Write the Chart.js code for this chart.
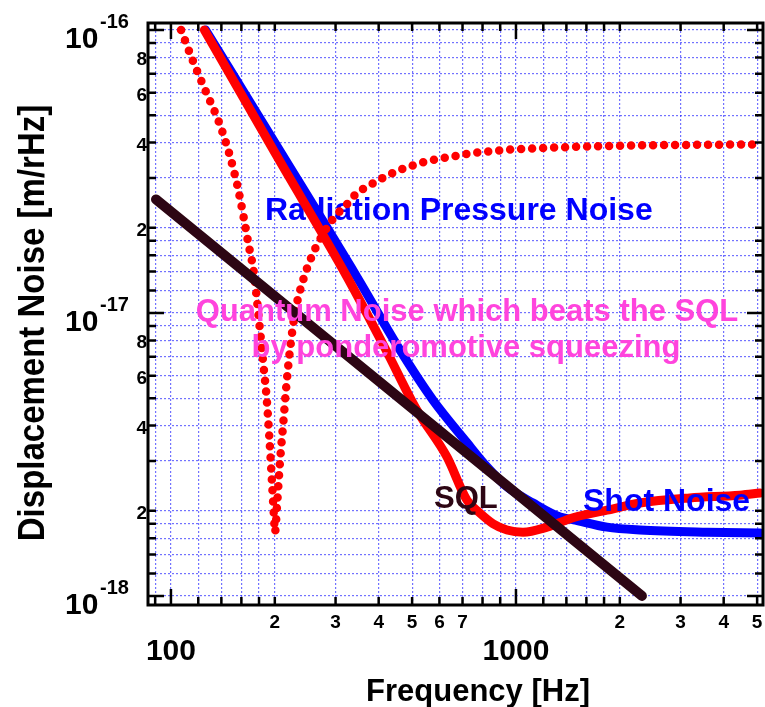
<!DOCTYPE html>
<html><head><meta charset="utf-8">
<script src="https://cdn.jsdelivr.net/npm/chart.js@4.4.0/dist/chart.umd.min.js"></script>
<style>html,body{margin:0;padding:0;background:#fff;}#wrap{width:765px;height:707px;position:relative;}</style>
</head><body><div id="wrap"><canvas id="c" width="765" height="707"></canvas></div>
<script>
// ---- data ----
const sqlFreq  = [90.5, 2318];
const sqlNoise = [2.52e-17, 1.0e-18];

const rpFreq  = [126, 206, 346, 461, 574, 721, 824, 942, 1120, 1342, 1463, 1836, 2287, 3578, 5100];
const rpNoise = [1.0e-16, 3.77e-17, 1.34e-17, 7.40e-18, 4.93e-18, 3.48e-18, 2.86e-18, 2.43e-18, 2.13e-18, 1.90e-18, 1.86e-18, 1.75e-18, 1.71e-18, 1.68e-18, 1.67e-18];

const qnFreq  = [125, 201, 324, 420, 516, 631, 721, 787, 858, 942, 1048, 1230, 1463, 1836, 2287, 3190, 4455, 5100];
const qnNoise = [1.0e-16, 3.65e-17, 1.34e-17, 7.40e-18, 4.54e-18, 3.10e-18, 2.18e-18, 1.96e-18, 1.80e-18, 1.71e-18, 1.68e-18, 1.75e-18, 1.89e-18, 2.01e-18, 2.13e-18, 2.22e-18, 2.27e-18, 2.31e-18];

const ponFreq  = [107, 116, 126.3, 138.1, 147.6, 155.7, 162, 167.5, 174, 180.3, 185.1, 189.3, 192.8, 195.9, 198.9, 200.2, 203.2, 206.9, 211.6, 216.4, 221.3, 228.8, 241.8, 258.5, 267.3, 289.1, 305.6, 326.6, 345.3, 369.2, 421.9, 476.6, 544.6, 643.6, 743.9, 850.5, 993, 1213, 1533, 2000, 2703, 3648, 4764, 5100];
const ponNoise = [1.0e-16, 7.73e-17, 6.05e-17, 4.69e-17, 3.65e-17, 2.83e-17, 2.22e-17, 1.77e-17, 1.38e-17, 9.22e-18, 6.66e-18, 5.05e-18, 3.65e-18, 2.63e-18, 1.90e-18, 1.68e-18, 2.13e-18, 2.95e-18, 4.08e-18, 5.66e-18, 7.40e-18, 1.00e-17, 1.31e-17, 1.63e-17, 1.77e-17, 2.08e-17, 2.26e-17, 2.45e-17, 2.65e-17, 2.79e-17, 3.05e-17, 3.25e-17, 3.42e-17, 3.56e-17, 3.67e-17, 3.73e-17, 3.79e-17, 3.83e-17, 3.87e-17, 3.90e-17, 3.92e-17, 3.93e-17, 3.94e-17, 3.94e-17];

// ---- ticks ----
const xTickValues = [90, 100, 120, 140, 160, 180, 200, 300, 400, 500, 600, 700, 800, 900, 1000, 1200, 1400, 1600, 1800, 2000, 3000, 4000, 5000];
const xMajorValues = [100, 1000];
const xLabelValues = [200, 300, 400, 500, 600, 700, 2000, 3000, 4000, 5000];
const xLabelTexts  = ['2', '3', '4', '5', '6', '7', '2', '3', '4', '5'];
const xDecadeTexts = ['100', '1000'];

const yMantissas = [1, 1.2, 1.4, 1.6, 1.8, 2, 3, 4, 5, 6, 7, 8, 9];
const yDecades = [1e-18, 1e-17];
const yMajorValues = [1e-18, 1e-17, 1e-16];
const yMajorExps = ['-18', '-17', '-16'];
const yLabelMantissas = [8, 6, 4, 2];
const yLabelTexts = ['8', '6', '4', '2'];

const yTickValues = [];
yDecades.forEach(d => yMantissas.forEach(m => yTickValues.push(m * d)));
yTickValues.push(1e-16);

const toPts = (xs, ys) => xs.map((x, i) => ({x: x, y: ys[i]}));

const FONT = "'Liberation Sans', Arial, sans-serif";

const deco = {
  id: 'deco',
  beforeDatasetsDraw(chart) {
    const ctx = chart.ctx;
    ctx.save();
    ctx.font = 'bold 32px ' + FONT;
    ctx.fillStyle = '#0000ff';
    ctx.textAlign = 'left';
    ctx.textBaseline = 'alphabetic';
    ctx.fillText('Radiation Pressure Noise', 265, 220);
    ctx.restore();
  },
  afterDatasetsDraw(chart) {
    const ctx = chart.ctx;
    ctx.save();
    ctx.textBaseline = 'alphabetic';
    ctx.font = 'bold 31px ' + FONT;
    ctx.fillStyle = '#ff44dd';
    ctx.textAlign = 'center';
    ctx.fillText('Quantum Noise which beats the SQL', 467, 321);
    ctx.fillText('by ponderomotive squeezing', 466, 357);
    ctx.textAlign = 'left';
    ctx.fillStyle = '#2d0614';
    ctx.fillText('SQL', 434, 508);
    ctx.fillStyle = '#0000ff';
    ctx.font = 'bold 32px ' + FONT;
    ctx.fillText('Shot Noise', 583, 511);
    ctx.restore();
  },
  afterDraw(chart) {
    const ctx = chart.ctx;
    const a = chart.chartArea;
    const xs = chart.scales.x, ys = chart.scales.y;
    ctx.save();
    // ticks
    ctx.strokeStyle = '#000';
    ctx.lineWidth = 2.5;
    ctx.beginPath();
    xTickValues.forEach(v => {
      const px = xs.getPixelForValue(v);
      const len = xMajorValues.includes(v) ? 16 : 8;
      ctx.moveTo(px, a.bottom); ctx.lineTo(px, a.bottom - len);
      ctx.moveTo(px, a.top); ctx.lineTo(px, a.top + len);
    });
    yTickValues.forEach(v => {
      const py = ys.getPixelForValue(v);
      const len = yMajorValues.some(m => Math.abs(m - v) / m < 1e-6) ? 16 : 8;
      ctx.moveTo(a.left, py); ctx.lineTo(a.left + len, py);
      ctx.moveTo(a.right, py); ctx.lineTo(a.right - len, py);
    });
    ctx.stroke();
    // frame
    ctx.lineWidth = 3;
    ctx.strokeRect(a.left, a.top, a.right - a.left, a.bottom - a.top);

    // x labels
    ctx.fillStyle = '#000';
    ctx.textAlign = 'center';
    ctx.textBaseline = 'alphabetic';
    ctx.font = 'bold 19px ' + FONT;
    xLabelValues.forEach((v, i) => ctx.fillText(xLabelTexts[i], xs.getPixelForValue(v), 628));
    ctx.font = 'bold 30px ' + FONT;
    xMajorValues.forEach((v, i) => ctx.fillText(xDecadeTexts[i], xs.getPixelForValue(v), 660));

    // y labels
    ctx.textAlign = 'right';
    ctx.font = 'bold 19px ' + FONT;
    yDecades.forEach(d => {
      yLabelMantissas.forEach((m, i) => {
        ctx.fillText(yLabelTexts[i], 147, ys.getPixelForValue(m * d) + 8);
      });
    });
    ctx.textAlign = 'left';
    yMajorValues.forEach((v, i) => {
      const py = ys.getPixelForValue(v);
      ctx.font = 'bold 30px ' + FONT;
      ctx.fillText('10', 65, py + 18);
      ctx.font = 'bold 20px ' + FONT;
      ctx.fillText(yMajorExps[i], 100, py - 2);
    });

    // axis titles
    ctx.font = 'bold 31px ' + FONT;
    ctx.textAlign = 'center';
    ctx.fillText('Frequency [Hz]', 478, 701);
    ctx.save();
    ctx.translate(44, 323);
    ctx.rotate(-Math.PI / 2);
    ctx.scale(1, 1.12);
    ctx.font = 'bold 33px ' + FONT;
    ctx.fillText('Displacement Noise [m/rHz]', 0, 0);
    ctx.restore();
    ctx.restore();
  }
};

const gridOpts = {color: 'rgba(20,20,255,0.6)', lineWidth: 1.2, drawTicks: false};

new Chart(document.getElementById('c'), {
  type: 'line',
  data: {
    datasets: [
      {label: 'SQL', data: toPts(sqlFreq, sqlNoise), borderColor: '#2d0614', borderWidth: 10,
       borderCapStyle: 'round', pointRadius: 0, tension: 0},
      {label: 'Quantum Noise (ponderomotive squeezing)', data: toPts(qnFreq, qnNoise), borderColor: '#ff0000', borderWidth: 9,
       borderCapStyle: 'round', pointRadius: 0, cubicInterpolationMode: 'monotone'},
      {label: 'Ponderomotive squeezing factor', data: toPts(ponFreq, ponNoise), borderColor: '#ff0000', borderWidth: 8.5,
       borderDash: [0, 11], borderCapStyle: 'round', pointRadius: 0, cubicInterpolationMode: 'monotone'},
      {label: 'Radiation Pressure + Shot Noise', data: toPts(rpFreq, rpNoise), borderColor: '#0000ff', borderWidth: 9,
       borderCapStyle: 'round', pointRadius: 0, cubicInterpolationMode: 'monotone'}
    ]
  },
  options: {
    responsive: false,
    animation: false,
    devicePixelRatio: 1,
    events: [],
    layout: {padding: {left: 148, right: 2, top: 23, bottom: 102}},
    plugins: {legend: {display: false}, tooltip: {enabled: false}},
    scales: {
      x: {
        type: 'logarithmic', min: 85.8, max: 5200,
        ticks: {display: false},
        grid: gridOpts,
        border: {display: false, dash: [2, 2]},
        afterBuildTicks: s => { s.ticks = xTickValues.map(v => ({value: v})); }
      },
      y: {
        type: 'logarithmic', min: 9.29e-19, max: 1.0586e-16,
        ticks: {display: false},
        grid: gridOpts,
        border: {display: false, dash: [2, 2]},
        afterBuildTicks: s => { s.ticks = yTickValues.map(v => ({value: v})); }
      }
    }
  },
  plugins: [deco]
});
</script>
</body></html>
